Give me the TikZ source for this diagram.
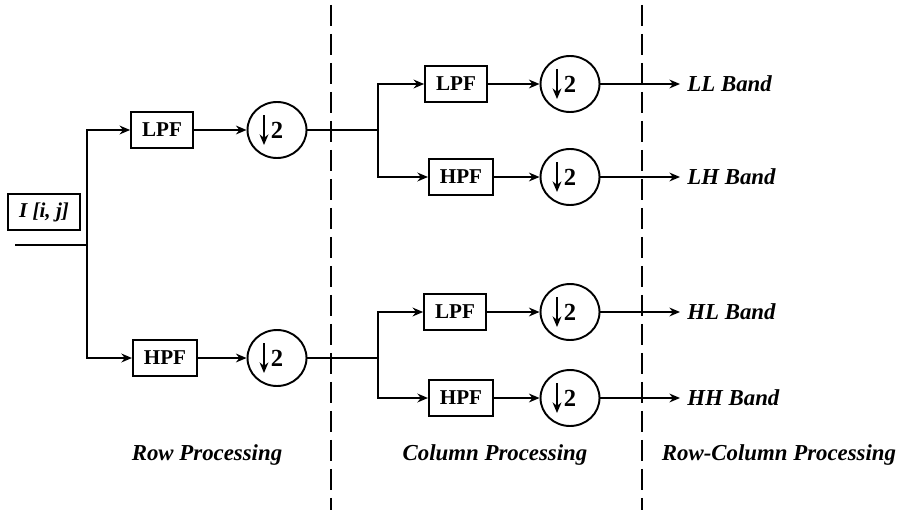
\documentclass[tikz,border=0pt]{standalone}
\usepackage{fontspec}
\setmainfont{Liberation Serif}
\usetikzlibrary{arrows.meta,shapes.geometric}

\begin{document}
\begin{tikzpicture}[x=0.02cm,y=-0.02cm,
    wire/.style={line width=1.1pt},
    arr/.style={wire,-{Stealth[length=6pt,width=5pt]}},
    filt/.style={draw,line width=1.1pt,minimum height=0.72cm,inner xsep=0.22cm,
        font=\fontsize{12}{14}\selectfont\bfseries},
    dsamp/.style={draw,ellipse,line width=1.1pt,minimum width=1.18cm,minimum height=1.12cm,
        inner sep=0pt,font=\fontsize{14}{16}\selectfont\bfseries},
    lbl/.style={font=\fontsize{13}{15}\selectfont\bfseries\itshape},
    sep/.style={line width=1.1pt,dash pattern=on 12pt off 4.5pt}]
    \useasboundingbox (0,0) rectangle (901,510);

    % input
    \node[filt,font=\fontsize{12}{14}\selectfont\bfseries\itshape] (img) at (44,212) {I [i, j]};
    \coordinate (src) at (15,245);
    \coordinate (j0) at (87,245);

    % row stage
    \node[filt] (lpf1) at (162,130) {LPF};
    \node[filt] (hpf1) at (165,358) {HPF};
    \node[dsamp] (d1) at (277,130) {2};
    \node[dsamp] (d2) at (277,358) {2};
    \coordinate (j1) at (378,130);
    \coordinate (j2) at (378,358);

    % column stage
    \node[filt] (lpf2) at (456,84) {LPF};
    \node[filt] (hpf2) at (461,177) {HPF};
    \node[filt] (lpf3) at (455,312) {LPF};
    \node[filt] (hpf3) at (461,398) {HPF};
    \node[dsamp] (d3) at (570,84) {2};
    \node[dsamp] (d4) at (570,177) {2};
    \node[dsamp] (d5) at (570,312) {2};
    \node[dsamp] (d6) at (570,398) {2};

    % outputs
    \node[lbl,anchor=west,inner sep=4pt] (ll) at (680,84) {LL Band};
    \node[lbl,anchor=west,inner sep=4pt] (lh) at (680,177) {LH Band};
    \node[lbl,anchor=west,inner sep=4pt] (hl) at (680,312) {HL Band};
    \node[lbl,anchor=west,inner sep=4pt] (hh) at (680,398) {HH Band};

    % stage titles
    \node[lbl] (t1) at (207,455) {Row Processing};
    \node[lbl] (t2) at (495,455) {Column Processing};
    \node[lbl] (t3) at (779,455) {Row-Column Processing};

    % separators
    \coordinate (s1a) at (331,5);
    \coordinate (s1b) at (331,510);
    \coordinate (s2a) at (642,5);
    \coordinate (s2b) at (642,510);
    \draw[sep] (s1a) -- (s1b);
    \draw[sep] (s2a) -- (s2b);

    \draw[wire] (src) -- (j0);
    \draw[arr] (j0) |- (lpf1);
    \draw[arr] (j0) |- (hpf1);
    \draw[arr] (lpf1) -- (d1);
    \draw[arr] (hpf1) -- (d2);
    \draw[wire] (d1) -- (j1);
    \draw[wire] (d2) -- (j2);
    \draw[arr] (j1) |- (lpf2);
    \draw[arr] (j1) |- (hpf2);
    \draw[arr] (j2) |- (lpf3);
    \draw[arr] (j2) |- (hpf3);
    \draw[arr] (lpf2) -- (d3);
    \draw[arr] (hpf2) -- (d4);
    \draw[arr] (lpf3) -- (d5);
    \draw[arr] (hpf3) -- (d6);
    \draw[arr] (d3) -- (ll);
    \draw[arr] (d4) -- (lh);
    \draw[arr] (d5) -- (hl);
    \draw[arr] (d6) -- (hh);

    % down-sampling arrows
    \foreach \d in {d1,d2,d3,d4,d5,d6}
        \draw[arr] ([shift={(-13,-15)}]\d.center) -- ++(0,30);
\end{tikzpicture}
\end{document}
